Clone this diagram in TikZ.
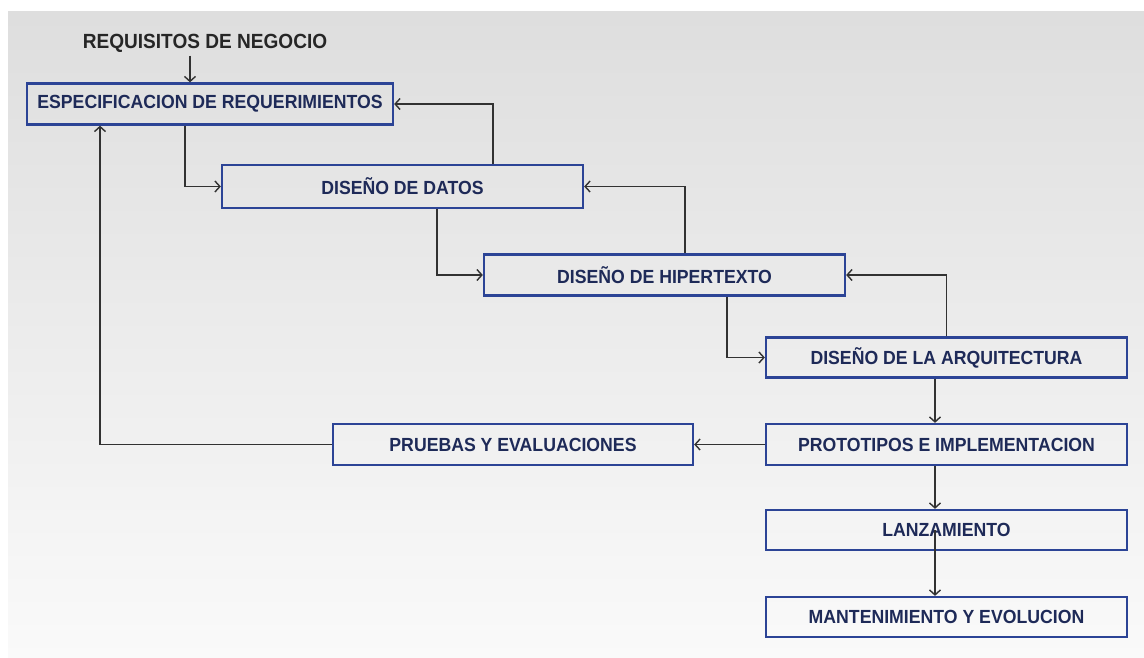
\documentclass[tikz,border=0pt]{standalone}
\usepackage{fontspec}
\setmainfont{Liberation Sans}[FakeStretch=0.93]
\usetikzlibrary{arrows.meta}

\definecolor{boxline}{RGB}{44,68,150}
\definecolor{boxtext}{RGB}{30,42,88}
\definecolor{wire}{RGB}{50,50,50}

\begin{document}
\begin{tikzpicture}[x=1pt,y=-1pt,
                    >={Straight Barb[length=5pt,width=11pt]},
                    stage/.style={draw=boxline,line width=2.3pt,minimum height=41pt,
                                  text=boxtext,font=\fontsize{19}{21}\selectfont\bfseries,inner sep=0pt},
                    link/.style={->,draw=wire,line width=1.4pt}
]

\fill[white] (0,0) rectangle (1144,657);
\shade[top color=black!13,bottom color=black!2] (8,11) rectangle (1144,657);
%
\node [font=\fontsize{20.5}{22}\selectfont\bfseries,text=black!85] at (205,43) (req) {REQUISITOS DE NEGOCIO};
\node [stage, minimum width=366pt] at (210,104) (espec) {ESPECIFICACION DE REQUERIMIENTOS};
\node [stage, minimum width=361pt, minimum height=43pt] at (402.5,186.5) (datos) {DISEÑO DE DATOS};
\node [stage, minimum width=361pt] at (664.5,275) (hiper) {DISEÑO DE HIPERTEXTO};
\node [stage, minimum width=361pt, minimum height=40pt] at (946.5,357.5) (arq) {DISEÑO DE LA ARQUITECTURA};
\node [stage, minimum width=361pt] at (946.5,444.5) (proto) {PROTOTIPOS E IMPLEMENTACION};
\node [stage, minimum width=360pt] at (513,444.5) (pruebas) {PRUEBAS Y EVALUACIONES};
\node [stage, minimum width=361pt, minimum height=40pt] at (946.5,530) (lanz) {LANZAMIENTO};
\node [stage, minimum width=361pt, minimum height=40pt] at (946.5,617) (mant) {MANTENIMIENTO Y EVOLUCION};
%
\draw [link] ([xshift=-15pt]req.south) -- ([xshift=-20pt]espec.north);
\draw [link] ([xshift=-25pt]espec.south) |- (datos.west);
\draw [link] ([xshift=90.5pt]datos.north) |- (espec.east);
\draw [link] ([xshift=34.5pt]datos.south) |- (hiper.west);
\draw [link] ([xshift=20.5pt]hiper.north) |- (datos.east);
\draw [link] ([xshift=62.5pt]hiper.south) |- (arq.west);
\draw [link] (arq.north) |- (hiper.east);
%
\draw [link] ([xshift=-11.5pt]arq.south) -- ([xshift=-11.5pt]proto.north);
\draw [link] (proto.west) -- (pruebas.east);
\draw [link] (pruebas.west) -| ([xshift=-110pt]espec.south);
\draw [link] ([xshift=-11.5pt]proto.south) -- ([xshift=-11.5pt]lanz.north);
\draw [link] ([xshift=-11.5pt]lanz.center) -- ([xshift=-11.5pt]mant.north);
\end{tikzpicture}
\end{document}
